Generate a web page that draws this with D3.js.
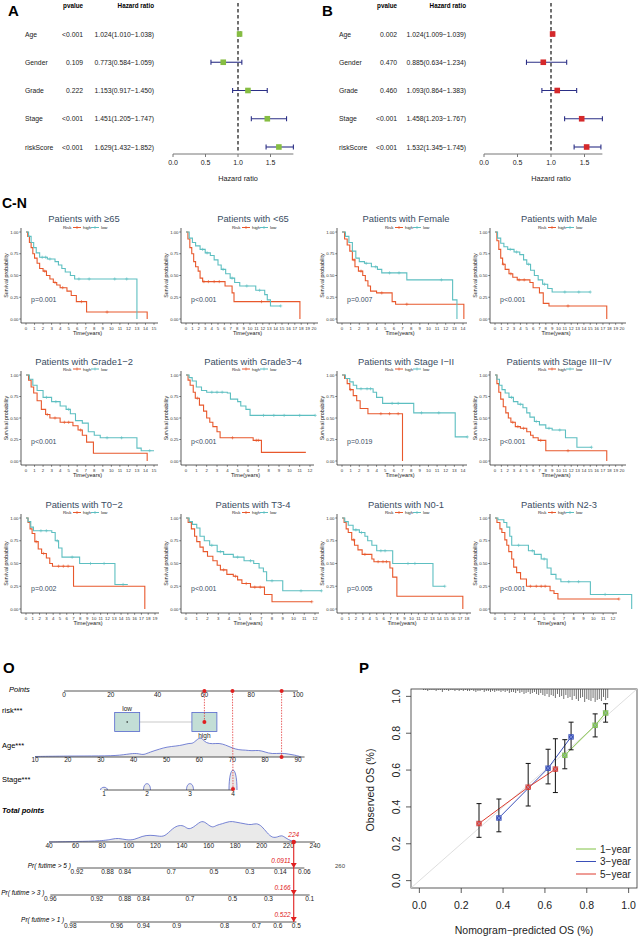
<!DOCTYPE html>
<html><head><meta charset="utf-8">
<script src="https://cdn.jsdelivr.net/npm/d3@7"></script>
<style>body{margin:0;background:#fff} svg{display:block;font-family:"Liberation Sans",Arial,Helvetica,sans-serif}</style>
</head><body><svg id="c" width="641" height="938"></svg>
<script>
// ================= DATA =================
// Panels A / B (Cox regression)
const coxVars = ["Age","Gender","Grade","Stage","riskScore"];
const uniP  = ["<0.001","0.109","0.222","<0.001","<0.001"];
const uniHR = [1.024,0.773,1.153,1.451,1.629];
const uniLo = [1.010,0.584,0.917,1.205,1.432];
const uniHi = [1.038,1.059,1.450,1.747,1.852];
const multiP  = ["0.002","0.470","0.460","<0.001","<0.001"];
const multiHR = [1.024,0.885,1.093,1.458,1.532];
const multiLo = [1.009,0.634,0.864,1.203,1.345];
const multiHi = [1.039,1.234,1.383,1.767,1.745];
const hrTicks = [0.0,0.5,1.0,1.5];

// Panels C-N (Kaplan-Meier)
const kmTitles = ["Patients with \u226565","Patients with <65","Patients with Female","Patients with Male",
  "Patients with Grade1\u22122","Patients with Grade3\u22124","Patients with Stage I\u2212II","Patients with Stage III\u2212IV",
  "Patients with T0\u22122","Patients with T3-4","Patients with N0-1","Patients with N2-3"];
const kmPvals = ["p=0.001","p<0.001","p=0.007","p<0.001","p<0.001","p<0.001","p=0.019","p<0.001","p=0.002","p<0.001","p=0.005","p<0.001"];
const kmTimeMax = [15,20,14,20,15,12,14,20,19,12,18,12];
const kmYTicks = [0,0.25,0.5,0.75,1];

const kmC_high = [[0,1],[0.2,0.95],[0.4,0.88],[0.6,0.82],[0.8,0.75],[1,0.7],[1.3,0.64],[1.6,0.58],[2,0.55],[2.4,0.5],[2.8,0.46],[3.2,0.42],[3.6,0.39],[4,0.36],[4.8,0.32],[5.3,0.27],[5.9,0.2],[7.1,0.08],[14.2,0]];
const kmC_low  = [[0,1],[0.3,0.95],[0.6,0.88],[0.9,0.82],[1.2,0.76],[1.6,0.71],[2.5,0.69],[3.4,0.66],[3.8,0.62],[4.2,0.58],[4.6,0.54],[5.2,0.5],[5.7,0.46],[13,0]];
const kmC_highCens = [2.2,3.4,4.3,6.5,9.5];
const kmC_lowCens  = [1.9,2.3,2.8,6.2,7.4,10.4,11.8];

const kmD_high = [[0,1],[0.3,0.92],[0.6,0.82],[0.9,0.75],[1.2,0.66],[1.5,0.6],[1.9,0.55],[2.2,0.47],[2.6,0.43],[6.1,0.38],[7.2,0.3],[7.5,0.2],[17.8,0]];
const kmD_low  = [[0,1],[0.5,0.93],[1,0.88],[1.5,0.84],[2.2,0.8],[3,0.76],[3.8,0.73],[4.4,0.68],[5,0.62],[5.5,0.57],[6.2,0.52],[6.9,0.47],[7.6,0.42],[8.4,0.38],[10.9,0.33],[12.3,0.28],[12.7,0.22],[13.2,0.15],[14.8,0.15]];
const kmD_highCens = [2.8,3.5,4.4,5.2,11.8];
const kmD_lowCens  = [2.6,3.3,5.8,7.2,9.5,11.5,14.8];

const kmE_high = [[0,1],[0.3,0.92],[0.6,0.85],[0.9,0.78],[1.2,0.68],[1.5,0.6],[1.9,0.55],[2.4,0.5],[2.7,0.44],[3,0.38],[3.3,0.32],[4,0.3],[5.8,0.2],[6.2,0.17],[14.1,0]];
const kmE_low  = [[0,1],[0.4,0.95],[0.8,0.88],[1.2,0.78],[1.6,0.7],[2,0.66],[2.6,0.64],[3.4,0.6],[4.1,0.57],[4.6,0.53],[7.5,0.45],[12.8,0.22],[13.3,0]];
const kmE_highCens = [1.4,2.2,4.6,7.5];
const kmE_lowCens  = [2.8,3.9,5.5,6.6,11.5];

const kmF_high = [[0,1],[0.3,0.9],[0.6,0.8],[0.9,0.7],[1.2,0.63],[1.6,0.57],[2.2,0.52],[2.8,0.48],[3.5,0.45],[5.5,0.42],[6,0.36],[7,0.3],[7.6,0.18],[8.5,0.15],[17.6,0]];
const kmF_low  = [[0,1],[0.4,0.93],[0.9,0.87],[1.4,0.83],[2,0.8],[3,0.77],[3.9,0.74],[4.5,0.68],[5,0.63],[5.6,0.56],[6.2,0.5],[6.8,0.45],[7.5,0.4],[8.3,0.35],[9,0.31],[15,0.31]];
const kmF_highCens = [1.3,2.5,3.8,4.6,11.5];
const kmF_lowCens  = [2.4,3.4,5.3,7.8,11,13.2,15];

const kmG_high = [[0,1],[0.3,0.94],[0.6,0.86],[0.9,0.79],[1.3,0.7],[1.8,0.6],[2.3,0.54],[2.8,0.5],[4,0.45],[5.5,0.41],[6.1,0.36],[6.6,0.3],[7.1,0.22],[7.9,0.09],[14.2,0]];
const kmG_low  = [[0,1],[0.4,0.95],[0.8,0.88],[1.3,0.82],[2,0.74],[3,0.69],[4,0.64],[4.7,0.6],[5.2,0.55],[5.8,0.47],[6.6,0.44],[7.3,0.34],[8,0.3],[8.7,0.27],[13,0.15],[13.5,0.12],[15,0.12]];
const kmG_highCens = [2.5,3.4,4.5,5,6.4];
const kmG_lowCens  = [2.4,3.5,5,9.5,11.2,14.5];

const kmH_high = [[0,1],[0.2,0.94],[0.4,0.88],[0.7,0.8],[0.9,0.73],[1.3,0.65],[1.7,0.58],[2,0.5],[2.3,0.45],[2.6,0.4],[3,0.34],[3.3,0.27],[6.5,0.24],[7.3,0.1],[11.6,0.1]];
const kmH_low  = [[0,1],[0.3,0.97],[0.6,0.93],[1,0.86],[1.5,0.82],[2,0.8],[4,0.79],[4.3,0.72],[5,0.69],[5.3,0.64],[5.8,0.6],[6.2,0.53],[12.5,0.53]];
const kmH_highCens = [1.1,4.5,6.8,7];
const kmH_lowCens  = [2.5,3,3.5,7.5,8.5,9.5,11,12.5];

const kmI_high = [[0,1],[0.3,0.96],[0.6,0.9],[0.9,0.83],[1.3,0.76],[1.7,0.7],[2.1,0.61],[3,0.55],[7,0]];
const kmI_low  = [[0,1],[0.4,0.96],[0.9,0.92],[1.3,0.88],[1.7,0.84],[3.6,0.8],[4,0.74],[4.7,0.67],[8.3,0.56],[13.1,0.28],[14.5,0.28]];
const kmI_highCens = [1,4.5,5.5,6.5];
const kmI_lowCens  = [2.2,2.9,3.3,5.8,6.5,9.2,11.2,14.5];

const kmJ_high = [[0,1],[0.3,0.9],[0.6,0.8],[0.9,0.72],[1.3,0.63],[1.7,0.56],[2.1,0.5],[2.5,0.45],[3.2,0.4],[4,0.38],[5,0.34],[5.6,0.3],[6,0.27],[6.8,0.24],[8,0.12],[17.6,0]];
const kmJ_low  = [[0,1],[0.3,0.95],[0.7,0.88],[1.1,0.83],[1.6,0.79],[2.2,0.74],[2.9,0.69],[3.6,0.66],[4.4,0.62],[5,0.56],[5.5,0.51],[6.2,0.46],[7,0.42],[8,0.38],[9,0.36],[11.1,0.27],[12.9,0.16],[15.2,0.16]];
const kmJ_highCens = [2.8,3.6,4.5,7.2,11.5];
const kmJ_lowCens  = [2.6,4,6.5,8.5,10.2,15.2];

const kmK_high = [[0,1],[0.3,0.95],[0.6,0.88],[0.9,0.83],[1.3,0.74],[1.8,0.66],[2.3,0.61],[3,0.56],[3.5,0.5],[3.9,0.47],[7,0.25],[17.5,0]];
const kmK_low  = [[0,1],[0.3,0.96],[0.7,0.9],[1.1,0.86],[3.8,0.84],[4.3,0.75],[4.8,0.67],[5.3,0.57],[7.9,0.5],[13.1,0.27],[15,0.27]];
const kmK_highCens = [1.5,2.6,4.8,5.5,6.2];
const kmK_lowCens  = [2.2,3,4.6,6.8,9.5,11.5,14.3];

const kmL_high = [[0,1],[0.2,0.95],[0.5,0.88],[0.8,0.8],[1,0.74],[1.3,0.68],[1.6,0.63],[2,0.58],[2.5,0.53],[2.9,0.48],[3.2,0.43],[3.8,0.38],[4.4,0.36],[4.8,0.32],[5.2,0.28],[6,0.24],[7.3,0.16],[8,0.08],[11.7,0.08]];
const kmL_low  = [[0,1],[0.3,0.96],[0.6,0.93],[1,0.89],[1.3,0.8],[1.7,0.75],[2.2,0.7],[2.9,0.63],[3.5,0.6],[4.4,0.57],[5.4,0.53],[6.3,0.5],[6.8,0.45],[7.2,0.41],[7.5,0.31],[9,0.2],[12.6,0.2]];
const kmL_highCens = [3.5,4.6,5.6,6.4,6.9,11.7];
const kmL_lowCens  = [2.4,3.2,4.8,6,8,10.7,12.6];

const kmM_high = [[0,1],[0.3,0.95],[0.6,0.88],[0.9,0.84],[1.4,0.76],[1.8,0.7],[2.3,0.65],[2.9,0.6],[4.3,0.55],[4.6,0.52],[6.9,0.45],[7.3,0.35],[7.9,0.14],[17.4,0]];
const kmM_low  = [[0,1],[0.4,0.96],[0.9,0.92],[1.6,0.87],[2.5,0.84],[3.3,0.8],[3.7,0.75],[4.3,0.7],[5,0.64],[7.3,0.5],[13.1,0.25],[14.8,0.25]];
const kmM_highCens = [1.7,3.3,5.2,5.9,6.4];
const kmM_lowCens  = [2,2.8,5.6,6.2,9.5,10.5,14.8];

const kmN_high = [[0,1],[0.2,0.95],[0.5,0.88],[0.7,0.84],[1,0.76],[1.2,0.7],[1.4,0.63],[1.7,0.55],[1.9,0.46],[2.2,0.4],[2.6,0.33],[3.2,0.25],[5.6,0.2],[6,0.17],[6.4,0.11],[12.6,0.11]];
const kmN_low  = [[0,1],[0.3,0.98],[0.9,0.95],[1.2,0.9],[1.5,0.8],[1.7,0.7],[3.4,0.64],[4,0.6],[4.7,0.55],[5.3,0.45],[5.7,0.38],[6.2,0.33],[6.7,0.3],[9.7,0.16],[13.9,0]];
const kmN_highCens = [3.6,4.2,4.7,5.1,12.6];
const kmN_lowCens  = [2.4,3.8,5,7.5,8.5,11.2];

// Panel O (nomogram)
const pointsTicks = [0,20,40,60,80,100];
const riskLevels = ["low","high"];
const riskPoints = [27,60];
const ageTicks = [10,20,30,40,50,60,70,80,90];
const ageDensity = [[10,0.5],[20,1],[30,1],[36,1.5],[40,4],[42,3],[43,2],[45,5],[48,8],[50,10],[53,11],[55,12],[57,14],[58,13],[60,20],[61,18],[62,14],[64,13],[66,14],[68,12],[70,9],[72,7],[74,7],[76,6],[78,7],[80,5],[82,3],[85,4],[87,3],[89,2],[91,0]];
const stageLevels = [1,2,3,4];
const stageFreq = [3,7,7,22];
const totalTicks = [40,60,80,100,120,140,160,180,200,220,240];
const totalDensity = [[40,0],[60,0.5],[80,1],[88,3],[92,4],[98,2],[104,2],[110,6],[116,7],[122,6],[127,5],[133,14],[138,17],[142,16],[145,12],[150,16],[155,22],[159,18],[163,14],[166,17],[170,18],[176,21],[180,20],[184,19],[188,18],[192,17],[196,19],[200,16],[204,9],[208,4],[212,5],[215,7],[218,4],[222,1],[226,0]];
const patientPoints = {risk:60, age:85, stage:4, total:224};
const pr5Labels = ["0.92","0.88","0.84","0.7","0.5","0.3","0.14","0.06"];
const pr5Total  = [61,84,97,132,164,191,214,232];
const pr3Labels = ["0.96","0.92","0.88","0.84","0.7","0.5","0.3","0.1"];
const pr3Total  = [41,76,97,111,146,178,205,236];
const pr1Labels = ["0.98","0.96","0.94","0.9","0.8","0.7","0.6","0.5"];
const pr1Total  = [56,91,111,136,172,196,212,226];
const predValues = ["0.0911","0.166","0.522"];

// Panel P (calibration)
const calTicks = [0,0.2,0.4,0.6,0.8,1.0];
const cal1_pred = [0.695,0.84,0.89];
const cal1_obs  = [0.68,0.843,0.91];
const cal1_lo   = [0.607,0.78,0.86];
const cal1_hi   = [0.765,0.905,0.96];
const cal3_pred = [0.38,0.615,0.725];
const cal3_obs  = [0.34,0.61,0.78];
const cal3_lo   = [0.265,0.525,0.71];
const cal3_hi   = [0.443,0.713,0.86];
const cal5_pred = [0.285,0.52,0.65];
const cal5_obs  = [0.31,0.507,0.605];
const cal5_lo   = [0.235,0.405,0.478];
const cal5_hi   = [0.418,0.636,0.77];
const rugStart = 0.02, rugStep = 0.01;
const rugN = [1,1,2,1,1,1,2,1,1,3,1,1,2,1,1,2,1,2,1,
  2,1,2,2,1,2,3,2,2,1,3,2,2,3,2,3,2,2,3,2,
  3,2,4,3,3,4,2,4,3,5,4,3,5,4,3,
  5,6,4,6,7,5,8,6,7,9,5,8,7,10,6,
  9,8,11,7,10,12,9,8,13,10,11,12,9,13,11,10,12,8,11,9];

// ================= DRAWING =================
const svg = d3.select("#c");
function txt(g, x, y, s, o = {}) {
  const t = g.append("text").attr("x", x).attr("y", y).text(s)
    .attr("font-size", o.size || 7).attr("fill", o.fill || "#000")
    .attr("text-anchor", o.anchor || "start");
  if (o.weight) t.attr("font-weight", o.weight);
  if (o.style) t.attr("font-style", o.style);
  if (o.rotate != null) t.attr("transform", `rotate(${o.rotate},${x},${y})`);
  return t;
}
function line(g, x1, y1, x2, y2, stroke, w, dash) {
  const l = g.append("line").attr("x1", x1).attr("y1", y1).attr("x2", x2).attr("y2", y2)
    .attr("stroke", stroke).attr("stroke-width", w);
  if (dash) l.attr("stroke-dasharray", dash);
  return l;
}

// ---- Forest plots ----
function forest(c) {
  const g = svg.append("g");
  const x = d3.scaleLinear().domain([0, 1]).range([c.px0, c.px1]);
  const y = d3.scalePoint().domain(coxVars).range([34, 147]);
  txt(g, c.letterX, 16, c.letter, {size: 15, weight: "bold"});
  txt(g, c.pX, 8, "pvalue", {size: 6.3, weight: "bold", anchor: "end"});
  txt(g, c.hrX, 8, "Hazard ratio", {size: 6.3, weight: "bold", anchor: "end"});
  coxVars.forEach((v, i) => {
    txt(g, c.labX, y(v) + 2.5, v, {size: 6.8, fill: "#222"});
    txt(g, c.pX, y(v) + 2.5, c.p[i], {size: 6.8, anchor: "end", fill: "#222"});
    txt(g, c.hrX, y(v) + 2.5, `${c.hr[i].toFixed(3)}(${c.lo[i].toFixed(3)}\u2212${c.hi[i].toFixed(3)})`, {size: 6.8, anchor: "end", fill: "#222"});
  });
  line(g, x(1), 3, x(1), 152, "#111", 1.2, "3.5,2.5");
  coxVars.forEach((v, i) => {
    const yy = y(v);
    line(g, x(c.lo[i]), yy, x(c.hi[i]), yy, "#2b2f86", 1.1);
    line(g, x(c.lo[i]), yy - 2.6, x(c.lo[i]), yy + 2.6, "#2b2f86", 1.1);
    line(g, x(c.hi[i]), yy - 2.6, x(c.hi[i]), yy + 2.6, "#2b2f86", 1.1);
    g.append("rect").attr("x", x(c.hr[i]) - 2.8).attr("y", yy - 2.8).attr("width", 5.6).attr("height", 5.6).attr("fill", c.color);
  });
  const ay = 154;
  line(g, x(0), ay, x(d3.max(c.hi)), ay, "#777", 1);
  hrTicks.forEach(t => {
    line(g, x(t), ay, x(t), ay + 3, "#777", 1);
    txt(g, x(t), ay + 10.5, d3.format(".1f")(t), {size: 7, anchor: "middle", fill: "#222"});
  });
  txt(g, x(1), 181, "Hazard ratio", {size: 7.3, anchor: "middle", fill: "#222"});
}
forest({letter: "A", letterX: 8, labX: 25, pX: 83, hrX: 154, px0: 173, px1: 238, p: uniP, hr: uniHR, lo: uniLo, hi: uniHi, color: "#86bd42"});
forest({letter: "B", letterX: 322, labX: 339, pX: 397, hrX: 466, px0: 484, px1: 551, p: multiP, hr: multiHR, lo: multiLo, hi: multiHi, color: "#d5292b"});

// ---- KM panels ----
txt(svg, 2, 208, "C-N", {size: 14, weight: "bold"});
const kmCurves = [
  [kmC_high, kmC_low, kmC_highCens, kmC_lowCens], [kmD_high, kmD_low, kmD_highCens, kmD_lowCens],
  [kmE_high, kmE_low, kmE_highCens, kmE_lowCens], [kmF_high, kmF_low, kmF_highCens, kmF_lowCens],
  [kmG_high, kmG_low, kmG_highCens, kmG_lowCens], [kmH_high, kmH_low, kmH_highCens, kmH_lowCens],
  [kmI_high, kmI_low, kmI_highCens, kmI_lowCens], [kmJ_high, kmJ_low, kmJ_highCens, kmJ_lowCens],
  [kmK_high, kmK_low, kmK_highCens, kmK_lowCens], [kmL_high, kmL_low, kmL_highCens, kmL_lowCens],
  [kmM_high, kmM_low, kmM_highCens, kmM_lowCens], [kmN_high, kmN_low, kmN_highCens, kmN_lowCens]];
// layout
const rowTitleY = [222, 365, 508], rowLegY = [227.5, 369, 512.5], rowY1 = [232, 375, 518], rowY0 = [319, 461, 609];
const colT0 = [26, 186, 342, 495], colTitleX = [84, 253, 406, 559];
const panelRightPx = [154, 314, 463, 622, 154, 310, 463, 622, 155, 315, 467, 613];
const HIGH = "#e8582c", LOW = "#5dbfc1", TITLE = "#3a4d63";
function stepVal(arr, t) { let v = arr[0][1]; for (const p of arr) { if (p[0] <= t) v = p[1]; else break; } return v; }

kmTitles.forEach((title, i) => {
  const col = i % 4, row = Math.floor(i / 4);
  const g = svg.append("g");
  const x = d3.scaleLinear().domain([0, kmTimeMax[i]]).range([colT0[col], panelRightPx[i]]);
  const y = d3.scaleLinear().domain([0, 1]).range([rowY0[row], rowY1[row]]);
  const axX = colT0[col] - 5, axY = rowY0[row] + 4;
  txt(g, colTitleX[col], rowTitleY[row], title, {size: 9.4, anchor: "middle", fill: TITLE});
  // legend
  const lc = colTitleX[col], ly = rowLegY[row];
  txt(g, lc - 21, ly + 1.5, "Risk", {size: 4.3, fill: "#222"});
  [[HIGH, -11, "high"], [LOW, 7, "low"]].forEach(([c, off, lab]) => {
    line(g, lc + off, ly, lc + off + 8, ly, c, 1);
    line(g, lc + off + 4, ly - 1.5, lc + off + 4, ly + 1.5, c, 0.7);
    txt(g, lc + off + 10, ly + 1.5, lab, {size: 4.3, fill: "#222"});
  });
  // axes
  line(g, axX, rowY1[row] - 4, axX, axY, "#333", 0.8);
  line(g, axX, axY, panelRightPx[i] + 4, axY, "#333", 0.8);
  kmYTicks.forEach(t => {
    line(g, axX - 1.8, y(t), axX, y(t), "#333", 0.6);
    txt(g, axX - 2.5, y(t) + 1.5, d3.format(".2f")(t), {size: 4.3, anchor: "end", fill: "#333"});
  });
  d3.range(0, kmTimeMax[i] + 1).forEach(t => {
    line(g, x(t), axY, x(t), axY + 1.8, "#333", 0.6);
    txt(g, x(t), axY + 6.5, String(t), {size: 4.3, anchor: "middle", fill: "#333"});
  });
  txt(g, (axX + panelRightPx[i]) / 2, axY + 12, "Time(years)", {size: 5.5, anchor: "middle", fill: "#222"});
  const my = (rowY0[row] + rowY1[row]) / 2;
  txt(g, axX - 13, my, "Survival probability", {size: 5.3, anchor: "middle", fill: "#222", rotate: -90});
  // curves
  const [hi, lo, hiC, loC] = kmCurves[i];
  const ln = d3.line().x(d => x(d[0])).y(d => y(d[1])).curve(d3.curveStepAfter);
  [[hi, hiC, HIGH], [lo, loC, LOW]].forEach(([data, cens, c]) => {
    g.append("path").attr("d", ln(data)).attr("fill", "none").attr("stroke", c).attr("stroke-width", 1.1);
    cens.forEach(t => {
      const cx = x(t), cy = y(stepVal(data, t));
      line(g, cx - 1.6, cy, cx + 1.6, cy, c, 0.6);
      line(g, cx, cy - 1.6, cx, cy + 1.6, c, 0.6);
    });
  });
  txt(g, axX + 10, y(0.2), kmPvals[i], {size: 7, fill: TITLE});
});

// ---- Panel O : nomogram ----
{
  const g = svg.append("g");
  const RED = "#e02020", BLUE = "#5566cc";
  txt(g, 3, 673, "O", {size: 15, weight: "bold"});
  const pts = d3.scaleLinear().domain([0, 100]).range([64, 298]);
  const age = d3.scaleLinear().domain([10, 90]).range([35, 298]);
  const stg = d3.scaleLinear().domain([1, 4]).range([104, 233]);
  const tot = d3.scaleLinear().domain([40, 240]).range([49, 315]);
  const lab = {size: 6.5, fill: "#222", anchor: "middle"};
  const axisC = "#444";
  // Points
  txt(g, 9, 692, "Points", {size: 7.5, style: "italic"});
  const yP = 691;
  line(g, pts(0), yP, pts(100), yP, axisC, 0.9);
  pointsTicks.forEach(t => txt(g, pts(t), yP + 6, String(t), lab));
  // risk
  txt(g, 2, 713, "risk***", {size: 7.5});
  const yR = 722;
  line(g, pts(riskPoints[0]), yR, pts(riskPoints[1]), yR, "#bbb", 0.8);
  riskLevels.forEach((r, i) => {
    const cx = pts(riskPoints[i]);
    g.append("rect").attr("x", cx - 12.5).attr("y", yR - 9.5).attr("width", 25).attr("height", 19)
      .attr("fill", "#c3ded6").attr("stroke", BLUE).attr("stroke-width", 0.8);
    txt(g, cx, i === 0 ? yR - 11 : yR + 16, r, lab);
  });
  g.append("circle").attr("cx", pts(riskPoints[0])).attr("cy", yR).attr("r", 0.7).attr("fill", "#000");
  // Age
  txt(g, 2, 748, "Age***", {size: 7.5});
  const yA = 757;
  const hA = d3.scaleLinear().domain([0, 20]).range([0, 20]);
  const areaA = d3.area().x(d => age(d[0])).y0(yA).y1(d => yA - hA(d[1])).curve(d3.curveBasis);
  g.append("path").attr("d", areaA(ageDensity)).attr("fill", "#eaeaea").attr("stroke", "none");
  g.append("path").attr("d", areaA.lineY1()(ageDensity)).attr("fill", "none").attr("stroke", BLUE).attr("stroke-width", 0.8);
  line(g, age(10), yA, age(92), yA, axisC, 0.9);
  ageTicks.forEach(t => txt(g, age(t), yA + 5, String(t), lab));
  // Stage
  txt(g, 2, 782, "Stage***", {size: 7.5});
  const yS = 790;
  const hS = d3.scaleLinear().domain([0, 22]).range([0, 20]);
  stageLevels.forEach((s, i) => {
    const cx = stg(s), h = hS(stageFreq[i]), w = i === 3 ? 4 : 3.5;
    g.append("path").attr("d", `M${cx - w},${yS} C${cx - w},${yS - h * 1.33} ${cx + w},${yS - h * 1.33} ${cx + w},${yS}`)
      .attr("fill", "#eaeaea").attr("stroke", BLUE).attr("stroke-width", 0.8);
  });
  line(g, stg(1), yS, stg(4), yS, axisC, 0.9);
  stageLevels.forEach(s => txt(g, stg(s), yS + 6, String(s), lab));
  // Total points
  txt(g, 2, 813, "Total points", {size: 7.5, weight: "bold", style: "italic"});
  const yT = 842;
  const areaT = d3.area().x(d => tot(d[0])).y0(yT).y1(d => yT - d[1]).curve(d3.curveBasis);
  g.append("path").attr("d", areaT(totalDensity)).attr("fill", "#eaeaea");
  g.append("path").attr("d", areaT.lineY1()(totalDensity)).attr("fill", "none").attr("stroke", BLUE).attr("stroke-width", 0.8);
  line(g, tot(40), yT, tot(240), yT, axisC, 0.9);
  totalTicks.forEach(t => txt(g, tot(t), yT + 6, String(t), lab));
  // probability rows
  const prRows = [[868, "Pr( futime > 5 )", pr5Labels, pr5Total], [895, "Pr( futime > 3 )", pr3Labels, pr3Total], [922, "Pr( futime > 1 )", pr1Labels, pr1Total]];
  prRows.forEach(([yy, name, labs, tv], k) => {
    const x0 = tot(tv[0]), x1 = tot(tv[tv.length - 1]);
    line(g, x0, yy, x1, yy, axisC, 0.9);
    txt(g, x0 - 6, yy - 0.5, name, {size: 6.5, style: "italic", anchor: "end"});
    labs.forEach((l, i) => txt(g, tot(tv[i]), yy + 6, l, lab));
  });
  txt(g, 340, 868, "260", {size: 6, fill: "#444", anchor: "middle"});
  // patient path
  const px = tot(patientPoints.total);
  line(g, pts(patientPoints.risk), yP, pts(patientPoints.risk), yR, RED, 0.7, "1.5,1.2");
  line(g, pts(72), yP, stg(patientPoints.stage), yS, RED, 0.7, "1.5,1.2");
  line(g, pts(93), yP, age(patientPoints.age), yA, RED, 0.7, "1.5,1.2");
  [pts(patientPoints.risk), pts(72), pts(93)].forEach(cx => g.append("circle").attr("cx", cx).attr("cy", yP).attr("r", 2).attr("fill", RED));
  g.append("circle").attr("cx", pts(patientPoints.risk)).attr("cy", yR).attr("r", 2).attr("fill", RED);
  g.append("circle").attr("cx", age(patientPoints.age)).attr("cy", yA).attr("r", 2).attr("fill", RED);
  g.append("circle").attr("cx", stg(patientPoints.stage)).attr("cy", yS - 1).attr("r", 2).attr("fill", RED);
  g.append("circle").attr("cx", px).attr("cy", yT).attr("r", 2.2).attr("fill", RED);
  txt(g, px, yT - 5, String(patientPoints.total), {size: 6.5, fill: RED, style: "italic", anchor: "middle"});
  line(g, px, yT, px, 922, RED, 1.1);
  prRows.forEach(([yy], k) => {
    g.append("path").attr("d", `M${px - 3},${yy - 5} L${px + 3},${yy - 5} L${px},${yy} Z`).attr("fill", RED);
    txt(g, px - 3, yy - 5, predValues[k], {size: 6.5, fill: RED, style: "italic", anchor: "end"});
  });
}

// ---- Panel P : calibration ----
{
  const g = svg.append("g");
  txt(g, 359, 673, "P", {size: 15, weight: "bold"});
  const x = d3.scaleLinear().domain([-0.04, 1.04]).range([411, 637]);
  const y = d3.scaleLinear().domain([-0.04, 1.04]).range([888, 689]);
  g.append("rect").attr("x", 411).attr("y", 689).attr("width", 226).attr("height", 199).attr("fill", "none").attr("stroke", "#333").attr("stroke-width", 0.8);
  line(g, x(-0.04), y(-0.04), x(1.04), y(1.04), "#d6d6d6", 0.8);
  const rl = d3.scaleLinear().domain([0, 13]).range([0, 13]);
  rugN.forEach((n, i) => line(g, x(rugStart + i * rugStep), 689, x(rugStart + i * rugStep), 689 + rl(n), "#333", 0.7));
  calTicks.forEach(t => {
    line(g, x(t), 888, x(t), 893, "#333", 0.8);
    txt(g, x(t), 909, d3.format(".1f")(t), {size: 10.5, anchor: "middle", fill: "#222"});
    line(g, 406, y(t), 411, y(t), "#333", 0.8);
    txt(g, 400, y(t), d3.format(".1f")(t), {size: 10.5, anchor: "middle", fill: "#222", rotate: -90});
  });
  txt(g, 524, 934, "Nomogram\u2212predicted OS (%)", {size: 10.5, anchor: "middle", fill: "#222"});
  txt(g, 374, 790, "Observed OS (%)", {size: 10.5, anchor: "middle", fill: "#222", rotate: -90});
  const series = [[cal1_pred, cal1_obs, cal1_lo, cal1_hi, "#80c244"], [cal3_pred, cal3_obs, cal3_lo, cal3_hi, "#3a4fb8"], [cal5_pred, cal5_obs, cal5_lo, cal5_hi, "#de3b2e"]];
  const ln = d3.line().x(d => x(d[0])).y(d => y(d[1]));
  series.forEach(([p, o, lo, hi, c]) => {
    g.append("path").attr("d", ln(p.map((v, i) => [v, o[i]]))).attr("fill", "none").attr("stroke", c).attr("stroke-width", 1);
  });
  series.forEach(([p, o, lo, hi, c]) => {
    p.forEach((v, i) => {
      const cx = x(v);
      line(g, cx, y(lo[i]), cx, y(hi[i]), "#111", 1);
      line(g, cx - 2.5, y(lo[i]), cx + 2.5, y(lo[i]), "#111", 1);
      line(g, cx - 2.5, y(hi[i]), cx + 2.5, y(hi[i]), "#111", 1);
    });
  });
  series.forEach(([p, o, lo, hi, c]) => {
    p.forEach((v, i) => {
      const cx = x(v), cy = y(o[i]);
      g.append("rect").attr("x", cx - 2.7).attr("y", cy - 2.7).attr("width", 5.4).attr("height", 5.4).attr("fill", c);
      line(g, cx - 2.7, cy - 2.7, cx + 2.7, cy + 2.7, "#9fb3e6", 0.6);
      line(g, cx - 2.7, cy + 2.7, cx + 2.7, cy - 2.7, "#9fb3e6", 0.6);
    });
  });
  [["1\u2212year", "#80c244"], ["3\u2212year", "#3a4fb8"], ["5\u2212year", "#de3b2e"]].forEach(([l, c], i) => {
    const yy = 849 + i * 12.5;
    line(g, 576, yy, 596, yy, c, 1);
    txt(g, 600, yy + 3.5, l, {size: 10, fill: "#222"});
  });
}
</script></body></html>
